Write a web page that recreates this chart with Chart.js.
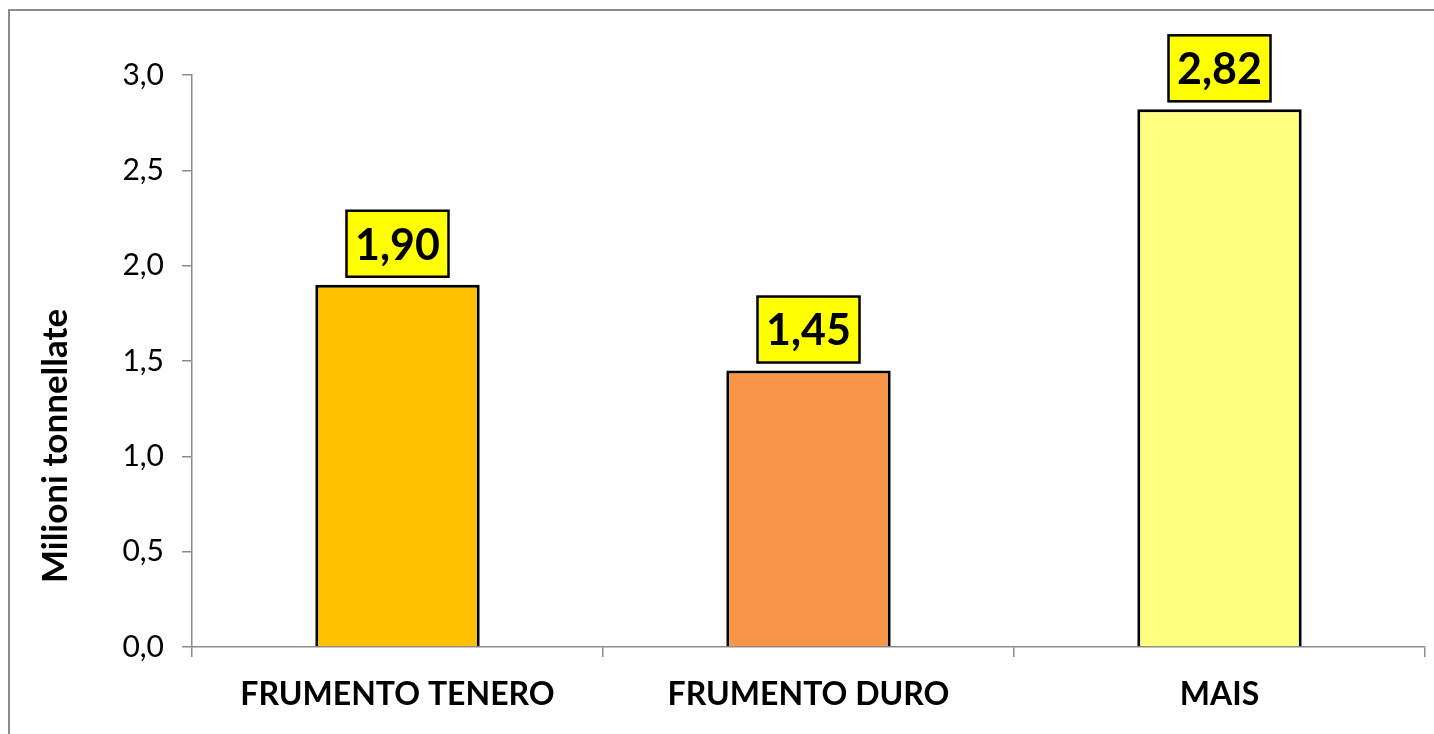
<!DOCTYPE html>
<html>
<head>
    <title>Milioni tonnellate</title>
    <meta charset="UTF-8">
    <script src="https://cdn.jsdelivr.net/npm/chart.js"></script>
    <style>
        body { margin: 0; background: #fff; }
        #wrap { width: 1434px; height: 734px; }
    </style>
</head>
<body>
<div id="wrap"><canvas id="bar_chart"></canvas></div>
<script>
    // dati
    var categorie = ['FRUMENTO TENERO', 'FRUMENTO DURO', 'MAIS'];
    var valori = [1.90, 1.45, 2.82];
    var colori = ['#FFC000', '#F79646', '#FFFF80'];
    var yTicks = [0, 0.5, 1.0, 1.5, 2.0, 2.5, 3.0];
    var titoloY = 'Milioni tonnellate';

    function virgola(v, d) {
        return v.toFixed(d).replace('.', ',');
    }

    // cornice esterna + titolo asse y (spostato in basso come nell'originale)
    var cornice = {
        id: 'cornice',
        beforeDraw: function(c) {
            var g = c.ctx;
            g.save();
            g.strokeStyle = '#8c8c8c';
            g.lineWidth = 2;
            g.strokeRect(9, 10, 1500, 800);
            g.restore();
        },
        afterDraw: function(c) {
            var g = c.ctx;
            g.save();
            g.translate(56, 446);
            g.rotate(-Math.PI / 2);
            g.font = 'bold 35px Lato';
            g.fillStyle = '#000';
            g.textAlign = 'center';
            g.textBaseline = 'middle';
            g.fillText(titoloY, 0, 0);
            g.restore();
        }
    };

    // etichette gialle sopra le barre
    var etichette = {
        id: 'etichette',
        afterDatasetsDraw: function(c) {
            var g = c.ctx;
            var meta = c.getDatasetMeta(0);
            g.save();
            g.font = 'bold 43px Lato';
            g.textAlign = 'center';
            g.textBaseline = 'middle';
            meta.data.forEach(function(bar, i) {
                var w = 102, h = 66;
                var x = bar.x - w / 2, y = bar.y - 8 - h;
                g.fillStyle = '#FFFF00';
                g.fillRect(x, y, w, h);
                g.strokeStyle = '#000';
                g.lineWidth = 2.5;
                g.strokeRect(x, y, w, h);
                g.fillStyle = '#000';
                g.fillText(virgola(valori[i], 2), bar.x, y + h / 2 + 2);
            });
            g.restore();
        }
    };

    var ctx = document.getElementById('bar_chart').getContext('2d');
    var chart = new Chart(ctx, {
        type: 'bar',
        data: {
            labels: categorie,
            datasets: [{
                data: valori,
                backgroundColor: colori,
                borderColor: '#000',
                borderWidth: 3,
                categoryPercentage: 1,
                barPercentage: 0.4
            }]
        },
        options: {
            responsive: true,
            maintainAspectRatio: false,
            animation: false,
            devicePixelRatio: 1,
            layout: { padding: { top: 75, right: 9, left: 0, bottom: 0 } },
            plugins: {
                legend: { display: false },
                tooltip: { enabled: false }
            },
            scales: {
                x: {
                    afterFit: function(s) { s.height = 87; },
                    grid: {
                        offset: true,
                        drawOnChartArea: false,
                        drawTicks: true,
                        tickLength: 10,
                        color: '#8c8c8c',
                        lineWidth: 1.5
                    },
                    border: { color: '#8c8c8c', width: 1.5 },
                    ticks: {
                        color: '#000',
                        padding: 18,
                        font: { family: 'Lato', size: 32, weight: 'bold' }
                    }
                },
                y: {
                    min: 0,
                    max: 3,
                    afterFit: function(s) { s.width = 192; },
                    afterBuildTicks: function(s) {
                        s.ticks = yTicks.map(function(v) { return { value: v }; });
                    },
                    grid: {
                        drawOnChartArea: false,
                        drawTicks: true,
                        tickLength: 10,
                        color: '#8c8c8c',
                        lineWidth: 1.5
                    },
                    border: { color: '#8c8c8c', width: 1.5 },
                    ticks: {
                        color: '#000',
                        padding: 18,
                        font: { family: 'Lato', size: 30 },
                        callback: function(v) { return virgola(v, 1); }
                    }
                }
            }
        },
        plugins: [cornice, etichette]
    });
</script>
</body>
</html>
